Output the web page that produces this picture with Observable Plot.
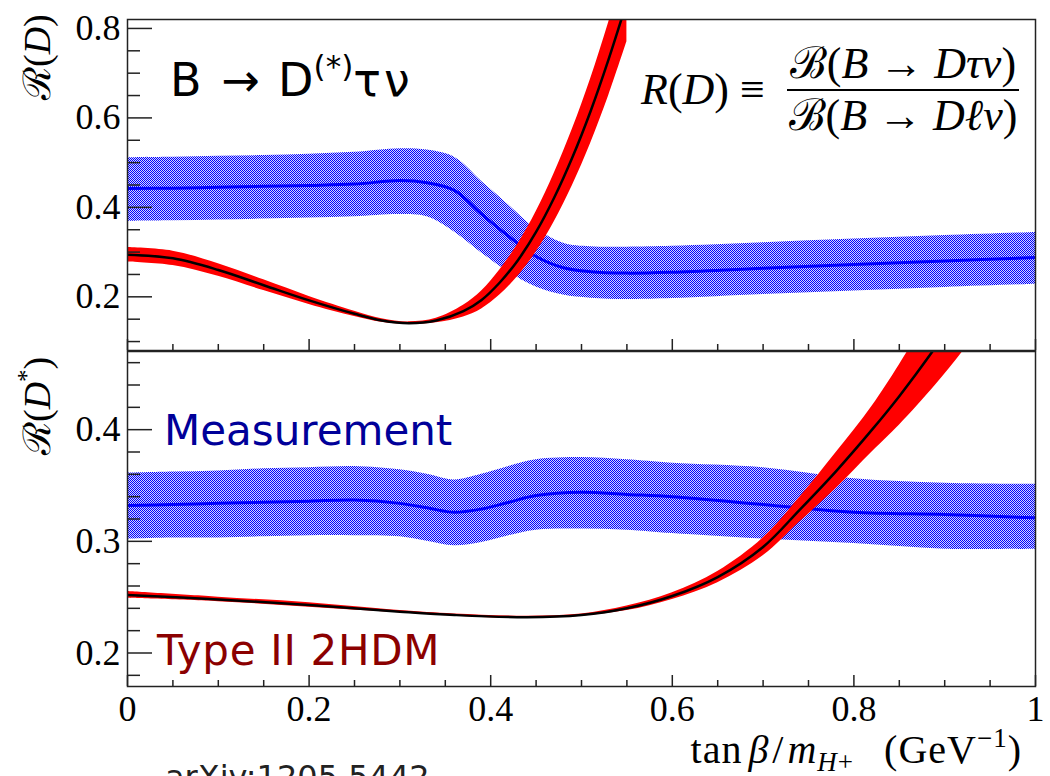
<!DOCTYPE html>
<html><head><meta charset="utf-8">
<script src="https://cdn.jsdelivr.net/npm/d3@7"></script>
<script src="https://cdn.jsdelivr.net/npm/@observablehq/plot@0.6"></script>
<style>
body{margin:0;background:#fff;}
#wrap{position:relative;width:1050px;height:776px;overflow:hidden;background:#fff;}
#top,#bot{position:absolute;left:0;}
#top{top:0px;} #bot{top:350px;}
.lbl{position:absolute;white-space:nowrap;line-height:1;}
#overlay{position:absolute;left:0;top:0;}
</style></head><body>
<div id="wrap"><div id="top"></div><div id="bot"></div>
<div class="lbl" id="title" style="left:170px;top:51px;font-family:'DejaVu Sans';font-size:46px;color:#000;">B<span style="margin:0 18px 0 20px;">→</span>D<sup style="font-size:31px;vertical-align:19px;">(*)</sup><span style="letter-spacing:3px;">τν</span></div>
<div class="lbl" id="meas" style="left:164px;top:410px;font-family:'DejaVu Sans';font-size:42px;color:#000099;">Measurement</div>
<div class="lbl" id="thdm" style="left:157px;top:630px;font-family:'DejaVu Sans';font-size:42px;letter-spacing:0.7px;color:#8b0000;">Type II 2HDM</div>
<div class="lbl" id="formula" style="left:641px;top:42px;font-family:'Liberation Serif';font-size:44px;display:flex;align-items:center;">
  <span><i>R</i>(<i>D</i>)&nbsp;≡</span>
  <span style="display:inline-flex;flex-direction:column;align-items:center;margin-left:22px;">
    <span style="border-bottom:2px solid #000;padding:0 3px 3px 3px;">ℬ(<i>B</i> → <i>Dτν</i>)</span>
    <span style="padding-top:3px;">ℬ(<i>B</i> → <i>Dℓν</i>)</span>
  </span>
</div>
<svg id="overlay" width="1050" height="776" style="font-family:'Liberation Serif';">
  <text transform="translate(50,100) rotate(-90)" font-size="38">ℛ(<tspan font-style="italic">D</tspan>)</text>
  <text transform="translate(50,455) rotate(-90)" font-size="38">ℛ(<tspan font-style="italic">D</tspan><tspan font-size="25" dy="-15">*</tspan><tspan dy="15">)</tspan></text>
  <text x="1022" y="763" font-size="40" text-anchor="end" letter-spacing="1">tan<tspan font-style="italic" dx="6">β</tspan><tspan dx="3">/</tspan><tspan font-style="italic" dx="3">m</tspan><tspan font-size="27" dy="8" font-style="italic">H</tspan><tspan font-size="27">+</tspan><tspan dy="-8" dx="30">(GeV</tspan><tspan font-size="27" dy="-16">−1</tspan><tspan dy="16">)</tspan></text>
  <text x="165" y="788" font-size="32" font-family="DejaVu Sans" fill="#222">arXiv:1205.5442</text>
</svg>
</div>
<script>
// ---------- data ----------
// Top panel: R(D)
const topMeasX  = [0, 0.05, 0.1, 0.15, 0.2, 0.25, 0.3, 0.33, 0.36, 0.39, 0.42, 0.45, 0.48, 0.51, 0.55, 0.6, 0.7, 0.8, 0.9, 1.0];
const topMeasC  = [0.442, 0.443, 0.445, 0.447, 0.449, 0.452, 0.460, 0.455, 0.438, 0.385, 0.335, 0.290, 0.265, 0.256, 0.253, 0.255, 0.264, 0.272, 0.280, 0.288];
const topMeasHi = [0.511, 0.512, 0.514, 0.516, 0.519, 0.523, 0.531, 0.528, 0.512, 0.458, 0.405, 0.352, 0.320, 0.312, 0.311, 0.313, 0.321, 0.329, 0.337, 0.344];
const topMeasLo = [0.369, 0.370, 0.372, 0.374, 0.376, 0.379, 0.384, 0.379, 0.345, 0.298, 0.255, 0.222, 0.204, 0.197, 0.194, 0.196, 0.205, 0.213, 0.221, 0.228];

const top2hdmX  = [0, 0.05, 0.1, 0.15, 0.2, 0.25, 0.28, 0.31, 0.34, 0.37, 0.39, 0.41, 0.43, 0.45, 0.47, 0.49, 0.51, 0.53, 0.55];
const top2hdmC  = [0.294, 0.286, 0.260, 0.226, 0.192, 0.162, 0.147, 0.141, 0.147, 0.168, 0.193, 0.232, 0.282, 0.345, 0.422, 0.512, 0.615, 0.732, 0.860];
const top2hdmLo = [0.278, 0.270, 0.246, 0.214, 0.183, 0.156, 0.143, 0.138, 0.142, 0.155, 0.173, 0.204, 0.246, 0.300, 0.368, 0.449, 0.543, 0.650, 0.770];
const top2hdmHi = [0.310, 0.302, 0.274, 0.238, 0.201, 0.168, 0.151, 0.144, 0.152, 0.181, 0.213, 0.260, 0.318, 0.390, 0.476, 0.575, 0.687, 0.814, 0.950];

// Bottom panel: R(D*)
const botMeasX  = [0, 0.05, 0.1, 0.15, 0.2, 0.25, 0.3, 0.33, 0.36, 0.39, 0.42, 0.45, 0.5, 0.55, 0.6, 0.7, 0.8, 0.9, 1.0];
const botMeasC  = [0.332, 0.333, 0.334, 0.335, 0.336, 0.337, 0.334, 0.330, 0.326, 0.329, 0.335, 0.341, 0.344, 0.342, 0.340, 0.333, 0.326, 0.324, 0.321];
const botMeasHi = [0.361, 0.362, 0.363, 0.365, 0.366, 0.367, 0.364, 0.360, 0.355, 0.360, 0.367, 0.373, 0.375, 0.373, 0.370, 0.366, 0.356, 0.352, 0.351];
const botMeasLo = [0.302, 0.303, 0.303, 0.304, 0.305, 0.305, 0.304, 0.300, 0.296, 0.299, 0.305, 0.310, 0.311, 0.310, 0.307, 0.302, 0.298, 0.293, 0.293];

const bot2hdmX  = [0, 0.1, 0.2, 0.3, 0.36, 0.44, 0.5, 0.55, 0.6, 0.65, 0.7, 0.74, 0.78, 0.82, 0.85, 0.89, 0.92, 0.95];
const bot2hdmC  = [0.252, 0.248, 0.243, 0.237, 0.234, 0.232, 0.234, 0.240, 0.251, 0.268, 0.295, 0.328, 0.3625, 0.400, 0.430, 0.474, 0.510, 0.548];
const bot2hdmLo = [0.249, 0.246, 0.241, 0.236, 0.233, 0.231, 0.233, 0.238, 0.248, 0.263, 0.287, 0.317, 0.347, 0.380, 0.404, 0.440, 0.470, 0.505];
const bot2hdmHi = [0.255, 0.250, 0.245, 0.238, 0.235, 0.233, 0.235, 0.242, 0.254, 0.273, 0.303, 0.339, 0.379, 0.421, 0.458, 0.512, 0.555, 0.600];

// Ticks
const xMajor = [0, 0.2, 0.4, 0.6, 0.8, 1];
const xMinor = [0.05, 0.1, 0.15, 0.25, 0.3, 0.35, 0.45, 0.5, 0.55, 0.65, 0.7, 0.75, 0.85, 0.9, 0.95];
const topYMajor = [0.2, 0.4, 0.6, 0.8];
const topYMinor = [0.1, 0.15, 0.25, 0.3, 0.35, 0.45, 0.5, 0.55, 0.65, 0.7, 0.75];
const botYMajor = [0.2, 0.3, 0.4];
const botYMinor = [0.18, 0.22, 0.24, 0.26, 0.28, 0.32, 0.34, 0.36, 0.38, 0.42, 0.44, 0.46];

// ---------- build ----------
const rows = (xs, c, lo, hi) => xs.map((x, i) => ({x, y: c[i], lo: lo[i], hi: hi[i]}));
const topMeas = rows(topMeasX, topMeasC, topMeasLo, topMeasHi);
const top2hdm = rows(top2hdmX, top2hdmC, top2hdmLo, top2hdmHi);
const botMeas = rows(botMeasX, botMeasC, botMeasLo, botMeasHi);
const bot2hdm = rows(bot2hdmX, bot2hdmC, bot2hdmLo, bot2hdmHi);

const W = 1050, ML = 127, MR = 15, FW = W - ML - MR;
const frameCol = "#222";

function addPattern(svg, id) {
  const ns = "http://www.w3.org/2000/svg";
  const defs = document.createElementNS(ns, "defs");
  defs.innerHTML = `<pattern id="${id}" width="2" height="2" patternUnits="userSpaceOnUse">
    <rect width="2" height="2" fill="#d4d4ff"/>
    <rect x="0" y="0" width="1" height="1" fill="#0000ff"/>
    <rect x="1" y="1" width="1" height="1" fill="#0000ff"/>
  </pattern>`;
  svg.insertBefore(defs, svg.firstChild);
}

function panel({height, mt, mb, ydom, meas, thdm, yMaj, yMin, xLabels, patId}) {
  const FH = height - mt - mb;
  const marks = [
    Plot.areaY(meas, {x: "x", y1: "lo", y2: "hi", fill: `url(#${patId})`, curve: "catmull-rom", clip: true}),
    Plot.lineY(meas, {x: "x", y: "y", stroke: "#0000ff", strokeWidth: 3, curve: "catmull-rom", clip: true}),
    Plot.areaY(thdm, {x: "x", y1: "lo", y2: "hi", fill: "#ff0000", curve: "catmull-rom", clip: true}),
    Plot.lineY(thdm, {x: "x", y: "y", stroke: "#000", strokeWidth: 2.5, curve: "catmull-rom", clip: true}),
    Plot.tickY(yMaj, {y: d => d, insetRight: FW - 25, stroke: frameCol, strokeWidth: 1.5}),
    Plot.tickY(yMin, {y: d => d, insetRight: FW - 13, stroke: frameCol, strokeWidth: 1.5}),
    Plot.tickX(xMajor, {x: d => d, insetTop: FH - 11, stroke: frameCol, strokeWidth: 1.5}),
    Plot.tickX(xMinor, {x: d => d, insetTop: FH - 6, stroke: frameCol, strokeWidth: 1.5}),
    Plot.axisY(yMaj, {anchor: "left", tickSize: 0, tickPadding: 7, label: null, tickFormat: d => String(d)}),
    Plot.frame({stroke: frameCol, strokeWidth: 1.5})
  ];
  if (xLabels) marks.push(Plot.axisX(xMajor, {anchor: "bottom", tickSize: 0, tickPadding: 9, label: null, tickFormat: d => String(d)}));
  const svg = Plot.plot({
    width: W, height, marginLeft: ML, marginRight: MR, marginTop: mt, marginBottom: mb,
    x: {domain: [0, 1], axis: xLabels ? undefined : null},
    y: {domain: ydom},
    style: {fontFamily: "'Liberation Serif'", fontSize: "36px", color: "#000", background: "transparent", overflow: "visible"},
    marks
  });
  addPattern(svg, patId);
  return svg;
}

document.getElementById("top").appendChild(panel({height: 351, mt: 19, mb: 1, ydom: [0.08, 0.82], meas: topMeas, thdm: top2hdm, yMaj: topYMajor, yMin: topYMinor, xLabels: false, patId: "hatchT"}));
document.getElementById("bot").appendChild(panel({height: 426, mt: 1, mb: 90, ydom: [0.17, 0.47], meas: botMeas, thdm: bot2hdm, yMaj: botYMajor, yMin: botYMinor, xLabels: true, patId: "hatchB"}));
</script>
</body></html>
